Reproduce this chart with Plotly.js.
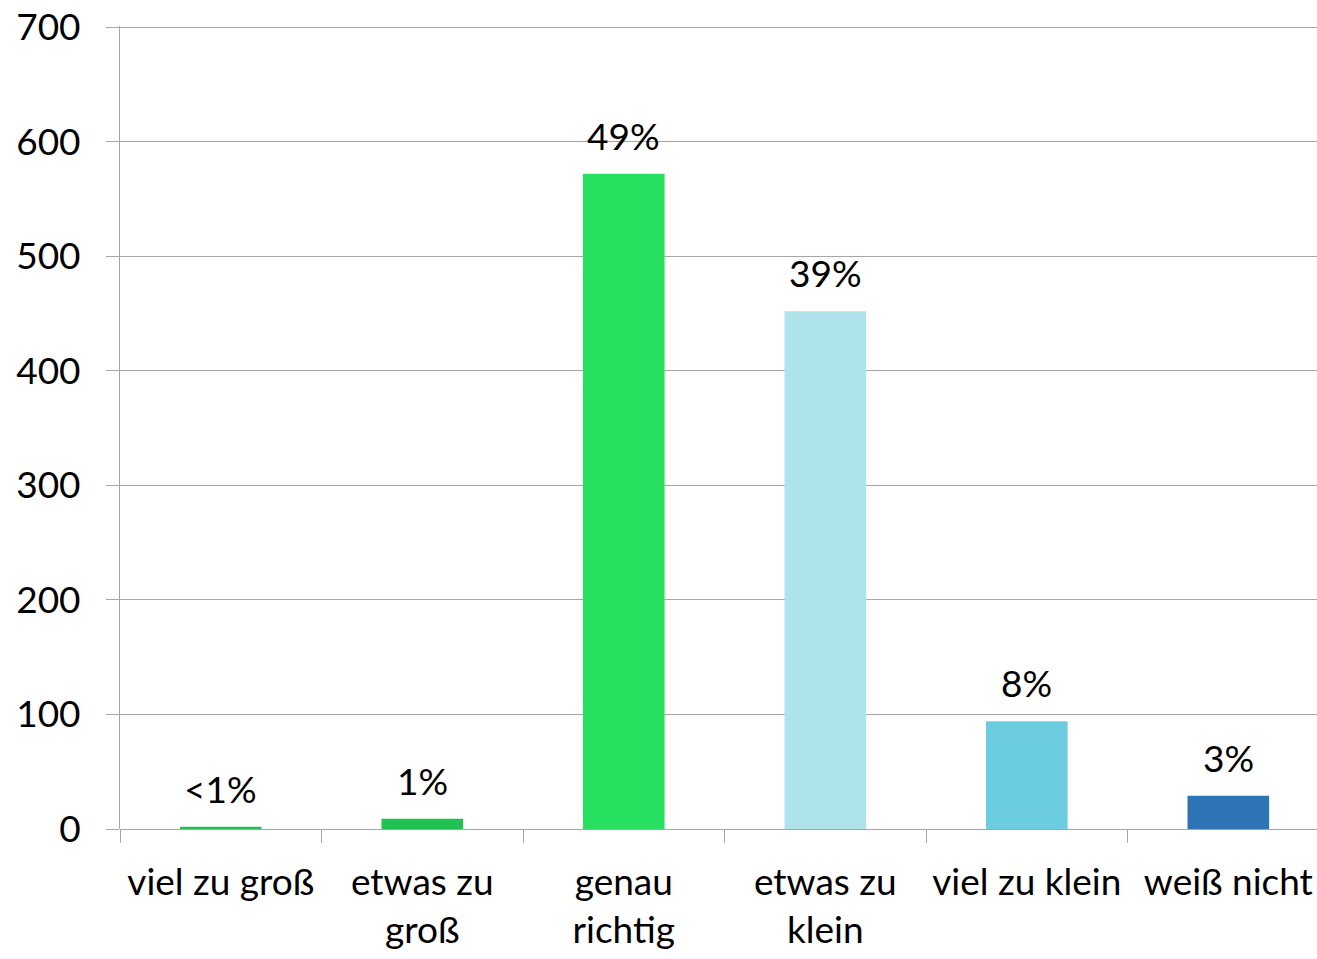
<!DOCTYPE html>
<html>
<head>
<meta charset="utf-8">
<script src="https://cdn.plot.ly/plotly-3.0.1.min.js"></script>
<style>html,body{margin:0;padding:0;background:#fff;overflow:hidden;}#chart{width:1317px;height:959px;}</style>
</head>
<body>
<div id="chart"></div>
<script>
const categories = ["viel zu groß", "etwas zu<br>groß", "genau<br>richtig", "etwas zu<br>klein", "viel zu klein", "weiß nicht"];
const counts = [2, 9, 572, 452, 94, 29];
const percentLabels = ["<1%", "1%", "49%", "39%", "8%", "3%"];
const barColors = ["#22BF50", "#21C252", "#27E060", "#AEE3EC", "#6DCDE0", "#2E75B6"];
const yTicks = [0, 100, 200, 300, 400, 500, 600, 700];

const fontFam = "Lato, 'Noto Sans', sans-serif";
const gridColor = "#A6A6A6";
const fs = 37;

const trace = {
  type: "bar",
  x: categories,
  y: counts,
  marker: {color: barColors},
  width: 0.405,
  hoverinfo: "skip"
};

const annotations = categories.map((c, i) => ({
  x: c, y: counts[i], xref: "x", yref: "y",
  text: percentLabels[i], showarrow: false,
  yanchor: "bottom", yshift: 14,
  font: {family: fontFam, size: fs, color: "#000"}
}));

const layout = {
  width: 1317, height: 959,
  margin: {l: 120, r: 0, t: 26, b: 130},
  paper_bgcolor: "#fff", plot_bgcolor: "#fff",
  showlegend: false,
  font: {family: fontFam, size: fs, color: "#000"},
  xaxis: {
    type: "category",
    range: [-0.5, 5.44],
    tickson: "boundaries",
    ticks: "outside", ticklen: 13, tickcolor: gridColor, tickwidth: 1,
    showline: false, showgrid: false,
    tickfont: {family: fontFam, size: fs, color: "#000"},
    ticklabelstandoff: 28
  },
  yaxis: {
    range: [0, 701],
    tickvals: yTicks,
    ticktext: yTicks.map(String),
    ticks: "outside", ticklen: 13, tickcolor: gridColor, tickwidth: 1,
    showgrid: true, gridcolor: gridColor, gridwidth: 1,
    zeroline: true, zerolinecolor: gridColor, zerolinewidth: 1,
    showline: true, linecolor: gridColor, linewidth: 1,
    tickfont: {family: fontFam, size: fs, color: "#000"},
    ticklabelstandoff: 18
  },
  annotations: annotations
};

Plotly.newPlot("chart", [trace], layout, {displayModeBar: false, staticPlot: true});
</script>
</body>
</html>
